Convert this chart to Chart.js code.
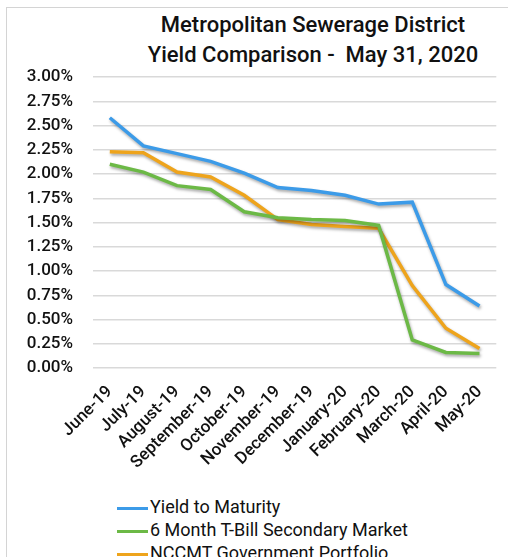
<!DOCTYPE html>
<html>
<head>
<meta charset="utf-8">
<script src="https://cdn.jsdelivr.net/npm/chart.js@4"></script>
<style>
	html, body { margin: 0; padding: 0; background: #fff; }
	body { width: 508px; height: 557px; position: relative; overflow: hidden; font-family: Roboto, sans-serif; }
	#frame { position: absolute; left: 6px; top: 7px; width: 560px; height: 600px; border: 1px solid #d4d4d4; }
	#title { position: absolute; left: 113px; top: 10px; width: 400px; text-align: center; font-size: 22px; font-weight: 500; line-height: 30px; color: #111; }
	#chartBox { position: absolute; left: 0; top: 0; width: 508px; height: 485px; }
	#legend { position: absolute; left: 117px; top: 495px; font-size: 18px; color: #111; }
	#legend div { height: 23px; line-height: 23px; white-space: nowrap; }
	#legend span { display: inline-block; width: 31px; height: 3px; vertical-align: middle; margin-right: 2px; }
</style>
</head>
<body>
<div id="frame"></div>
<div id="title">Metropolitan Sewerage District<br>Yield Comparison -&nbsp; May 31, 2020</div>
<div id="chartBox"><canvas id="yieldChart"></canvas></div>
<div id="legend"></div>
<script>
const months = ['June-19', 'July-19', 'August-19', 'September-19', 'October-19', 'November-19',
	'December-19', 'January-20', 'February-20', 'March-20', 'April-20', 'May-20'];

const yieldToMaturity = [2.58, 2.29, 2.21, 2.13, 2.01, 1.86, 1.83, 1.78, 1.69, 1.71, 0.86, 0.64];
const tBill6Month = [2.10, 2.02, 1.88, 1.84, 1.61, 1.55, 1.53, 1.52, 1.47, 0.29, 0.16, 0.15];
const nccmtGov = [2.23, 2.22, 2.02, 1.97, 1.78, 1.53, 1.48, 1.46, 1.44, 0.85, 0.41, 0.20];

const seriesNames = ['Yield to Maturity', '6 Month T-Bill Secondary Market', 'NCCMT Government Portfolio'];
const seriesColors = ['#3c9be8', '#6cb946', '#eea41c'];

const PLOT_LEFT = 93;
const PLOT_TOP = 77;
const PLOT_BOTTOM = 368;

const lineShadow = {
	id: 'lineShadow',
	beforeDatasetDraw(chart) {
		const ctx = chart.ctx;
		ctx.save();
		ctx.shadowColor = 'rgba(0,0,0,0.35)';
		ctx.shadowBlur = 3;
		ctx.shadowOffsetX = 1;
		ctx.shadowOffsetY = 2;
	},
	afterDatasetDraw(chart) {
		chart.ctx.restore();
	}
};

const makeSet = (i, values) => ({
	label: seriesNames[i],
	data: values,
	borderColor: seriesColors[i],
	backgroundColor: seriesColors[i],
	borderWidth: 3.5,
	pointRadius: 0,
	tension: 0,
	fill: false
});

const canvas = document.getElementById('yieldChart');
const chart = new Chart(canvas, {
	type: 'line',
	data: {
		labels: months,
		datasets: [
			makeSet(0, yieldToMaturity),
			makeSet(1, tBill6Month),
			makeSet(2, nccmtGov)
		]
	},
	options: {
		responsive: true,
		maintainAspectRatio: false,
		animation: false,
		layout: {
			padding: { top: PLOT_TOP, right: 2, left: 0, bottom: 0 }
		},
		scales: {
			x: {
				offset: true,
				grid: { display: false, drawTicks: false },
				border: { display: false },
				ticks: {
					autoSkip: false,
					minRotation: 45,
					maxRotation: 45,
					padding: 14,
					color: '#111',
					font: { family: 'Roboto', size: 17, weight: 500 }
				},
				afterFit(scale) {
					scale.height = 485 - PLOT_BOTTOM;
				}
			},
			y: {
				min: 0,
				max: 3,
				grid: { color: '#d9d9d9', lineWidth: 1.5, drawTicks: false },
				border: { display: false },
				ticks: {
					stepSize: 0.25,
					padding: 20,
					color: '#111',
					font: { family: 'Roboto', size: 17, weight: 500 },
					callback: v => v.toFixed(2) + '%'
				},
				afterFit(scale) {
					scale.width = PLOT_LEFT;
				}
			}
		},
		plugins: {
			legend: { display: false },
			tooltip: { enabled: false }
		}
	},
	plugins: [lineShadow]
});

// legend built from the chart's datasets
const legendEl = document.getElementById('legend');
chart.data.datasets.forEach(ds => {
	const row = document.createElement('div');
	const swatch = document.createElement('span');
	swatch.style.background = ds.borderColor;
	row.appendChild(swatch);
	row.appendChild(document.createTextNode(ds.label));
	legendEl.appendChild(row);
});
</script>
</body>
</html>
